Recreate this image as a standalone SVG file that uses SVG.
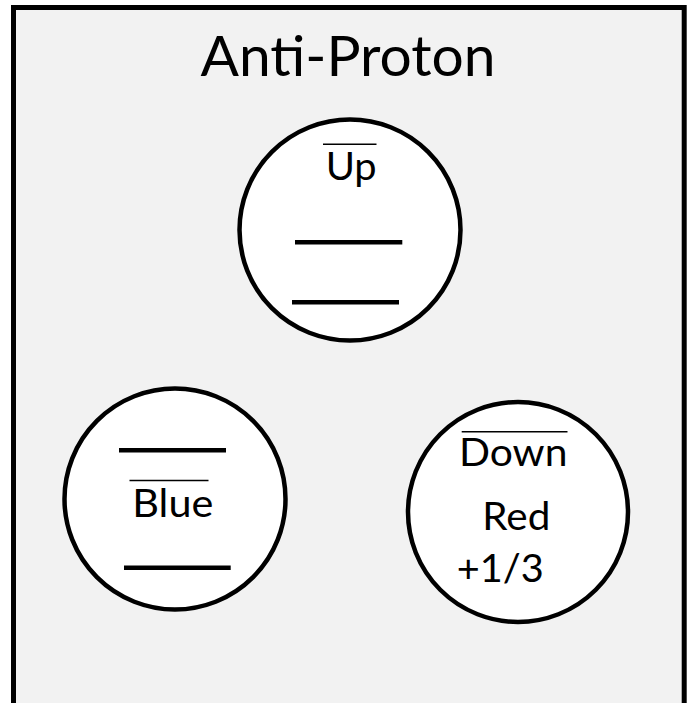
<svg xmlns="http://www.w3.org/2000/svg" width="691" height="703" viewBox="0 0 691 703">
<style>
.frame{fill:#f2f2f2;stroke:#000;stroke-width:5}
.q{fill:#fff;stroke:#000;stroke-width:4.5}
.t{font-family:Lato,"Open Sans","Liberation Sans",sans-serif;fill:#000}
.lbl{font-size:39px}
.title{font-size:56px}
.bar{stroke:#000;stroke-width:4.5}
.ov{stroke:#000;stroke-width:1.5}
</style>
<rect class="frame" x="13.5" y="7.5" width="670.7" height="720"/>
<text class="t title" x="200.5" y="76" textLength="295" lengthAdjust="spacingAndGlyphs">Anti-Proton</text>
<g id="quark-up">
<circle class="q" cx="350" cy="230" r="110.5"/>
<line class="ov" x1="323" y1="144.3" x2="376.5" y2="144.3"/>
<text class="t lbl" x="325.7" y="180" textLength="51" lengthAdjust="spacingAndGlyphs">Up</text>
<line class="bar" x1="295" y1="242.3" x2="402.3" y2="242.3"/>
<line class="bar" x1="292" y1="302.3" x2="399" y2="302.3"/>
</g>
<g id="quark-blue">
<circle class="q" cx="175" cy="499" r="110.5"/>
<line class="bar" x1="119" y1="450.3" x2="226" y2="450.3"/>
<line class="ov" x1="129.5" y1="480.5" x2="208.5" y2="480.5"/>
<text class="t lbl" x="132.3" y="516.5" textLength="81" lengthAdjust="spacingAndGlyphs">Blue</text>
<line class="bar" x1="124" y1="567.7" x2="230.7" y2="567.7"/>
</g>
<g id="quark-down">
<circle class="q" cx="518" cy="512" r="110"/>
<line class="ov" x1="461.7" y1="431.7" x2="567.5" y2="431.7"/>
<text class="t lbl" x="459" y="465.5" textLength="108.5" lengthAdjust="spacingAndGlyphs">Down</text>
<text class="t lbl" x="482.3" y="530" textLength="68" lengthAdjust="spacingAndGlyphs">Red</text>
<text class="t lbl" x="456.7" y="581.7" textLength="87" lengthAdjust="spacingAndGlyphs">+1/3</text>
</g>
<g id="connectors"/>
</svg>
